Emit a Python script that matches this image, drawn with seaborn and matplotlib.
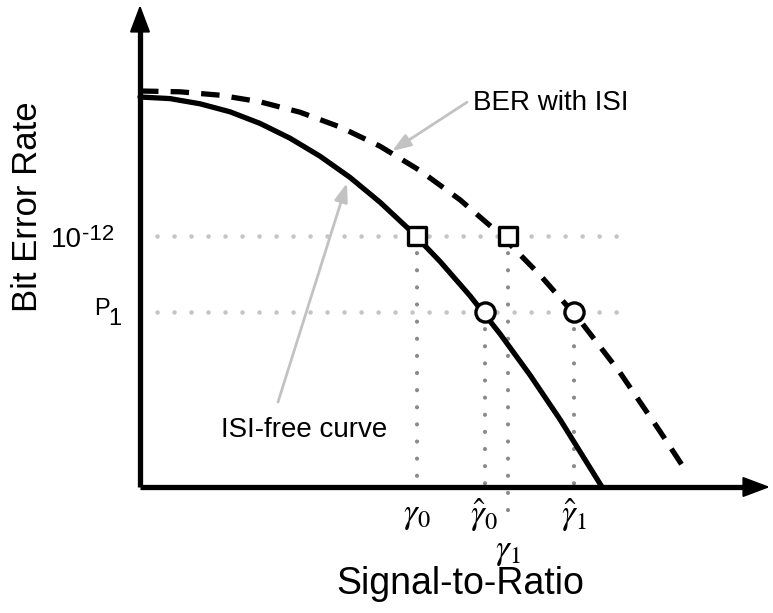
import numpy as np
import pandas as pd
import matplotlib
matplotlib.use("Agg")
import matplotlib.pyplot as plt
import seaborn as sns

# ---- data (nominal SNR / BER units) ----
snr_free = [0.0, 0.6, 1.2, 1.8, 2.4, 3.0, 3.6, 4.2, 4.8, 5.4, 6.0, 6.6, 7.2, 7.8, 8.4, 9.24]
ber_free = [9.75, 9.71, 9.58, 9.38, 9.09, 8.72, 8.27, 7.74, 7.12, 6.42, 5.64, 4.78, 3.83, 2.80, 1.69, 0.0]

snr_isi = [0.0, 0.8, 1.6, 2.4, 3.2, 4.0, 4.8, 5.6, 6.4, 7.2, 8.0, 8.8, 9.6, 10.4, 10.84]
ber_isi = [9.9, 9.88, 9.795, 9.63, 9.37, 9.0, 8.52, 7.91, 7.18, 6.32, 5.30, 4.16, 2.86, 1.39, 0.55]

ber_levels = [6.275, 4.375]

# gamma_0, gamma_hat_0, gamma_1, gamma_hat_1
gamma_x = [5.54, 6.89, 7.36, 8.68]
gamma_y = [6.275, 4.375, 6.275, 4.375]
gamma_labels = [r"$\gamma_0$", r"$\hat{\gamma}_0$", r"$\gamma_1$", r"$\hat{\gamma}_1$"]
square_x = [5.54, 7.36]
circle_x = [6.89, 8.68]

x_label = "Signal-to-Ratio"
y_label = "Bit Error Rate"

sns.set_theme(style="white")
plt.rcParams["font.family"] = ["Liberation Sans", "DejaVu Sans"]
plt.rcParams["text.color"] = "black"

fig = plt.figure(figsize=(7.73, 6.13), dpi=100)
ax = fig.add_axes([0, 0, 1, 1])

# reference dotted lines
light = "#c4c4c4"
dark = "#8a8a8a"
for lv in ber_levels:
    ax.plot([0, 9.7], [lv, lv], color=light, lw=3.3,
            linestyle=(0, (0.01, 3.7)), dash_capstyle="round", zorder=1)
vbottom = [0, 0, -0.95, 0]
for gx, gy, vb in zip(gamma_x, gamma_y, vbottom):
    ax.plot([gx, gx], [gy, vb], color=dark, lw=3.0,
            linestyle=(0, (0.01, 4.1)), dash_capstyle="round", zorder=1)

# curves
df_free = pd.DataFrame({"snr": snr_free, "ber": ber_free})
df_isi = pd.DataFrame({"snr": snr_isi, "ber": ber_isi})
sns.lineplot(data=df_free, x="snr", y="ber", ax=ax, color="black", lw=3.8,
             sort=False, estimator=None, zorder=3)
sns.lineplot(data=df_isi, x="snr", y="ber", ax=ax, color="black", lw=3.8,
             sort=False, estimator=None, zorder=3, linestyle=(0, (3.5, 2.3)))

# markers
df_sq = pd.DataFrame({"x": square_x, "y": [ber_levels[0]] * 2})
df_ci = pd.DataFrame({"x": circle_x, "y": [ber_levels[1]] * 2})
sns.scatterplot(data=df_sq, x="x", y="y", ax=ax, marker="s", s=170,
                facecolor="white", edgecolor="black", linewidth=2.4, zorder=5)
sns.scatterplot(data=df_ci, x="x", y="y", ax=ax, marker="o", s=190,
                facecolor="white", edgecolor="black", linewidth=2.4, zorder=5)

ax.set_xlim(-2.8, 12.66)
ax.set_ylim(-3.15, 12.175)
ax.axis("off")

# axes with arrows
ax.plot([0, 12.2], [0, 0], color="black", lw=3.8, solid_capstyle="butt", zorder=4)
ax.plot([0, 0], [0, 11.8], color="black", lw=3.8, solid_capstyle="butt", zorder=4)
ax.annotate("", xy=(12.6, 0), xytext=(11.8, 0),
            arrowprops=dict(arrowstyle="-|>,head_length=0.85,head_width=0.32",
                            color="black", lw=1.5, mutation_scale=20,
                            shrinkA=0, shrinkB=0), zorder=6)
ax.annotate("", xy=(0, 12.05), xytext=(0, 11.0),
            arrowprops=dict(arrowstyle="-|>,head_length=0.85,head_width=0.32",
                            color="black", lw=1.5, mutation_scale=20,
                            shrinkA=0, shrinkB=0), zorder=6)

# level labels: 10^-12 and P_1
ax.text(-1.16, 6.175, "10", ha="right", va="center", fontsize=20)
ax.text(-1.16, 6.32, "-12", ha="left", va="center", fontsize=16)
ax.text(-0.6, 4.46, "P", ha="right", va="center", fontsize=17)
ax.text(-0.63, 4.19, "1", ha="left", va="center", fontsize=17)

# gamma labels
gamma_ly = [-0.72, -0.72, -1.6, -0.72]
for gx, ly, lab in zip(gamma_x, gamma_ly, gamma_labels):
    ax.text(gx, ly, lab, ha="center", va="center", fontsize=25, math_fontfamily="stix")

# annotations
gray = "#c2c2c2"
ax.text(6.66, 9.6, "BER with ISI", ha="left", va="center", fontsize=20)
ax.annotate("", xy=(5.04, 8.4), xytext=(6.54, 9.62),
            arrowprops=dict(arrowstyle="-|>,head_length=0.7,head_width=0.25",
                            color=gray, lw=2.0, mutation_scale=16,
                            shrinkA=0, shrinkB=0))
ax.text(3.29, 1.42, "ISI-free curve", ha="center", va="center", fontsize=20)
ax.annotate("", xy=(4.14, 7.6), xytext=(2.76, 2.125),
            arrowprops=dict(arrowstyle="-|>,head_length=0.7,head_width=0.25",
                            color=gray, lw=2.0, mutation_scale=16,
                            shrinkA=0, shrinkB=0))

# axis titles
ax.text(6.4, -2.42, x_label, ha="center", va="center", fontsize=27)
ax.text(-2.24, 7.0, y_label, ha="center", va="center", fontsize=25, rotation=90)

fig.savefig("out.png", dpi=100)
